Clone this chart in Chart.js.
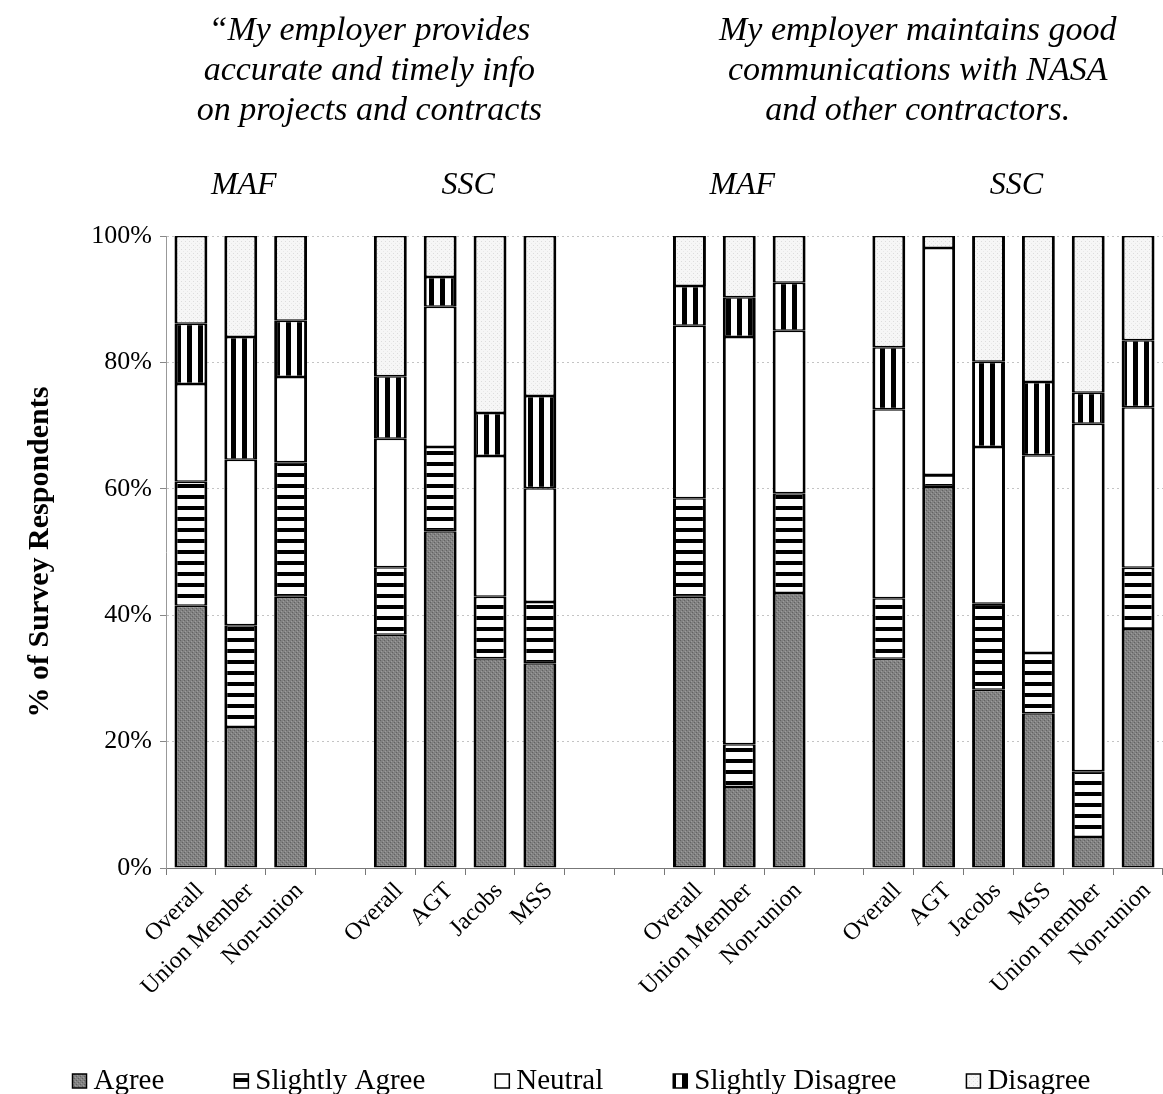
<!DOCTYPE html>
<html>
<head>
<meta charset="utf-8">
<script src="https://cdn.jsdelivr.net/npm/chart.js@4.4.1/dist/chart.umd.min.js"></script>
<style>
  html, body { margin: 0; padding: 0; background: #fff; overflow: hidden; }
  #wrap { width: 1163px; height: 1094px; position: relative; }
</style>
</head>
<body>
<div id="wrap"><canvas id="myChart" width="1163" height="1094"></canvas></div>
<script>
const ctx = document.getElementById("myChart").getContext("2d");

// --- Data ---
// blank labels are the spacer columns between the groups
const categories = [
  "Overall", "Union Member", "Non-union", "",
  "Overall", "AGT", "Jacobs", "MSS", "", "",
  "Overall", "Union Member", "Non-union", "",
  "Overall", "AGT", "Jacobs", "MSS", "Union member", "Non-union",
];

const agree = [41.5, 22.3, 42.9, null, 36.9, 53.3, 33.2, 32.4, null, null, 42.9, 12.8, 43.5, null, 33.1, 60.3, 28.2, 24.5, 4.9, 37.8];
const slightlyAgree = [19.6, 16.1, 21.3, null, 10.7, 13.3, 9.7, 9.7, null, null, 15.6, 6.8, 15.8, null, 9.6, 1.9, 13.6, 9.5, 10.4, 9.7];
const neutral = [15.5, 26.2, 13.5, null, 20.3, 22.2, 22.3, 18.0, null, null, 27.3, 64.4, 25.7, null, 29.9, 35.9, 24.8, 31.3, 55.0, 25.4];
const slightlyDisagree = [9.5, 19.4, 8.9, null, 9.9, 4.7, 6.8, 14.6, null, null, 6.3, 6.3, 7.6, null, 9.8, 0, 13.5, 11.6, 4.9, 10.6];
const disagree = [13.9, 16.0, 13.4, null, 22.2, 6.5, 28.0, 25.3, null, null, 7.9, 9.7, 7.4, null, 17.6, 1.9, 19.9, 23.1, 24.8, 16.5];

const yTicks = [0, 20, 40, 60, 80, 100];

const leftTitle = ["\u201CMy employer provides", "accurate and timely info", "on projects and contracts"];
const rightTitle = ["My employer maintains good", "communications with NASA", "and other contractors."];

// group headings: name, first and last column index
const groupNames = ["MAF", "SSC", "MAF", "SSC"];
const groupFirst = [0, 4, 10, 14];
const groupLast = [2, 7, 12, 19];

// the two question panels (column ranges)
const panelFirst = [0, 10];
const panelLast = [7, 19];

const SERIF = "'Liberation Serif', 'Times New Roman', serif";

// --- Fill patterns ---
function makePattern(w, h, paint) {
  const c = document.createElement("canvas");
  c.width = w;
  c.height = h;
  paint(c.getContext("2d"));
  return ctx.createPattern(c, "repeat");
}

const agreeFill = makePattern(4, 4, (g) => {
  g.fillStyle = "#828282";
  g.fillRect(0, 0, 4, 4);
  g.fillStyle = "#626262";
  g.fillRect(0, 0, 1, 1);
  g.fillRect(2, 2, 1, 1);
  g.fillStyle = "#9c9c9c";
  g.fillRect(1, 3, 1, 1);
  g.fillRect(3, 1, 1, 1);
});

const hStripes = makePattern(2, 11, (g) => {
  g.fillStyle = "#fff";
  g.fillRect(0, 0, 2, 11);
  g.fillStyle = "#000";
  g.fillRect(0, 0, 2, 4);
});

const vStripes = makePattern(11, 2, (g) => {
  g.fillStyle = "#fff";
  g.fillRect(0, 0, 11, 2);
  g.fillStyle = "#000";
  g.fillRect(0, 0, 5, 2);
});

const lightDots = makePattern(4, 4, (g) => {
  g.fillStyle = "#f6f6f6";
  g.fillRect(0, 0, 4, 4);
  g.fillStyle = "#dcdcdc";
  g.fillRect(1, 1, 1, 1);
  g.fillStyle = "#e8e8e8";
  g.fillRect(3, 3, 1, 1);
});

const series = [
  { label: "Agree", data: agree, fill: agreeFill },
  { label: "Slightly Agree", data: slightlyAgree, fill: hStripes },
  { label: "Neutral", data: neutral, fill: "#ffffff" },
  { label: "Slightly Disagree", data: slightlyDisagree, fill: vStripes },
  { label: "Disagree", data: disagree, fill: lightDots },
];

// --- Headings and legend ---
const textPlugin = {
  id: "panelText",
  afterDraw(chart) {
    const c = chart.ctx;
    const x = chart.scales.x;
    const mid = (a, b) => (x.getPixelForValue(a) + x.getPixelForValue(b)) / 2;

    c.save();
    c.fillStyle = "#000";
    c.textAlign = "center";
    c.textBaseline = "middle";
    c.font = "italic 34px " + SERIF;

    [leftTitle, rightTitle].forEach((lines, p) => {
      const cx = mid(panelFirst[p], panelLast[p]) + 4;
      lines.forEach((line, i) => c.fillText(line, cx, 31 + i * 40));
    });

    c.font = "italic 32px " + SERIF;
    groupNames.forEach((name, i) => {
      c.fillText(name, mid(groupFirst[i], groupLast[i]) + 3, 186);
    });

    // legend row
    c.font = "29px " + SERIF;
    c.textAlign = "left";
    const box = 14, gapText = 7, gapItem = 70, ly = 1081;
    const widths = series.map((s) => box + gapText + c.measureText(s.label).width);
    const total = widths.reduce((a, b) => a + b, 0) + gapItem * (series.length - 1);
    let lx = (chart.width - total) / 2;
    series.forEach((s, i) => {
      c.fillStyle = s.fill;
      c.fillRect(lx, ly - box / 2, box, box);
      c.lineWidth = 1.5;
      c.strokeStyle = "#000";
      c.strokeRect(lx, ly - box / 2, box, box);
      c.fillStyle = "#000";
      c.fillText(s.label, lx + box + gapText, ly);
      lx += widths[i] + gapItem;
    });
    c.restore();
  },
};

// --- Chart ---
new Chart(ctx, {
  type: "bar",
  data: {
    labels: categories,
    datasets: series.map((s) => ({
      label: s.label,
      data: s.data,
      backgroundColor: s.fill,
      borderColor: "#000",
      borderWidth: { left: 3, right: 3, top: 1.5, bottom: 1.5 },
      borderSkipped: false,
      barPercentage: 0.66,
      categoryPercentage: 1.0,
    })),
  },
  options: {
    responsive: false,
    animation: false,
    layout: { padding: { top: 236, left: 0, right: 0, bottom: 66 } },
    plugins: {
      legend: { display: false },
      tooltip: { enabled: false },
    },
    scales: {
      x: {
        stacked: true,
        afterFit: (scale) => { scale.height = 160; },
        grid: {
          offset: true,
          drawOnChartArea: false,
          drawTicks: true,
          tickLength: 7,
          tickColor: "#777",
        },
        border: { display: true, color: "#777", width: 1 },
        ticks: {
          autoSkip: false,
          minRotation: 45,
          maxRotation: 45,
          padding: 2,
          labelOffset: 9,
          color: "#000",
          font: { family: SERIF, size: 24 },
        },
      },
      y: {
        stacked: true,
        min: 0,
        max: 100,
        afterFit: (scale) => { scale.width = 166; },
        afterBuildTicks: (scale) => { scale.ticks = yTicks.map((v) => ({ value: v })); },
        grid: {
          color: "#c4c4c4",
          lineWidth: 1,
          drawTicks: true,
          tickLength: 6,
          tickColor: "#888",
          tickBorderDash: [],
        },
        border: { display: true, color: "#999", width: 1, dash: [2, 3] },
        ticks: {
          padding: 8,
          color: "#000",
          font: { family: SERIF, size: 26 },
          callback: (v) => v + "%",
        },
        title: {
          display: true,
          text: "% of Survey Respondents",
          color: "#000",
          font: { family: SERIF, size: 30, weight: "bold" },
          padding: { top: 22, bottom: 0 },
        },
      },
    },
  },
  plugins: [textPlugin],
});
</script>
</body>
</html>
